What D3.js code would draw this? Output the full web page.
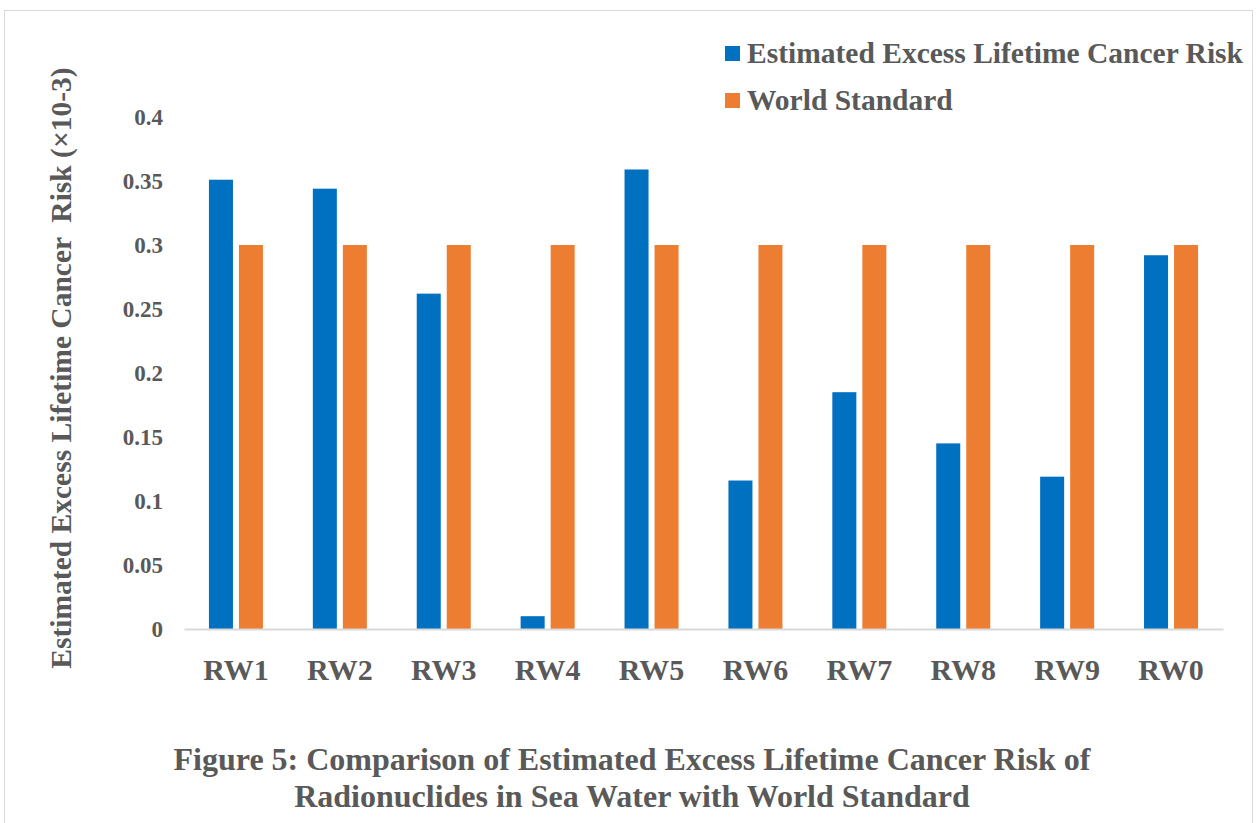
<!DOCTYPE html>
<html>
<head>
<meta charset="utf-8">
<script src="https://cdn.jsdelivr.net/npm/d3@7"></script>
<style>
  body { margin: 0; background: #fff; }
  text { font-family: "Liberation Serif", "Times New Roman", serif; font-weight: bold; fill: #595959; }
</style>
</head>
<body>
<svg id="chart" width="1258" height="823"></svg>
<script>
// chart values
const sites = ["RW1", "RW2", "RW3", "RW4", "RW5", "RW6", "RW7", "RW8", "RW9", "RW0"];
const seriesNames = ["Estimated Excess Lifetime Cancer Risk", "World Standard"];
const elcrValues = [0.351, 0.344, 0.262, 0.010, 0.359, 0.116, 0.185, 0.145, 0.119, 0.292];
const worldStandard = [0.3, 0.3, 0.3, 0.3, 0.3, 0.3, 0.3, 0.3, 0.3, 0.3];
const yTicks = [0, 0.05, 0.1, 0.15, 0.2, 0.25, 0.3, 0.35, 0.4];
const colors = ["#0070C0", "#ED7D31"];

const svg = d3.select("#chart");

// outer frame
svg.append("rect")
  .attr("x", 4.5).attr("y", 10.5)
  .attr("width", 1248).attr("height", 830)
  .attr("fill", "none")
  .attr("stroke", "#d9d9d9");

const plot = { left: 184, right: 1223, top: 117, bottom: 629 };

const y = d3.scaleLinear()
  .domain([0, 0.4])
  .range([plot.bottom, plot.top]);

const x0 = d3.scaleBand()
  .domain(sites)
  .range([plot.left, plot.right])
  .paddingInner(0.48)
  .paddingOuter(0.24);

const x1 = d3.scaleBand()
  .domain(seriesNames)
  .range([0, x0.bandwidth()])
  .paddingInner(0.2);

// rows of data for the grouped bars
const rows = sites.map((s, i) => ({
  site: s,
  vals: [
    { name: seriesNames[0], value: elcrValues[i], c: colors[0] },
    { name: seriesNames[1], value: worldStandard[i], c: colors[1] }
  ]
}));

// y axis labels only, no line
const yAxis = d3.axisLeft(y)
  .tickValues(yTicks)
  .tickFormat(d => d === 0 ? "0" : String(+d.toFixed(2)))
  .tickSize(0)
  .tickPadding(21);

const gy = svg.append("g")
  .attr("transform", `translate(${plot.left},0)`)
  .call(yAxis);
gy.select(".domain").remove();
gy.selectAll("text")
  .attr("font-size", 23)
  .attr("font-family", null)
  .attr("fill", "#595959");

// bars
const groups = svg.append("g").selectAll("g")
  .data(rows)
  .join("g")
  .attr("transform", d => `translate(${x0(d.site)},0)`);

groups.selectAll("rect")
  .data(d => d.vals)
  .join("rect")
  .attr("x", d => x1(d.name))
  .attr("y", d => y(d.value))
  .attr("width", x1.bandwidth())
  .attr("height", d => y(0) - y(d.value))
  .attr("fill", d => d.c);

// x axis baseline and labels
const xAxis = d3.axisBottom(x0).tickSize(0).tickPadding(30);
const gx = svg.append("g")
  .attr("transform", `translate(0,${plot.bottom})`)
  .call(xAxis);
gx.select(".domain")
  .attr("stroke", "#d9d9d9")
  .attr("stroke-width", 2);
gx.selectAll("text")
  .attr("font-size", 30)
  .attr("font-family", null)
  .attr("fill", "#595959");

// y axis title
svg.append("text")
  .attr("transform", "translate(71,368) rotate(-90)")
  .attr("text-anchor", "middle")
  .attr("font-size", 29.5)
  .style("white-space", "pre")
  .text("Estimated Excess Lifetime Cancer  Risk (\u00d710-3)");

// legend
const legend = svg.append("g")
  .selectAll("g")
  .data(seriesNames)
  .join("g")
  .attr("transform", (d, i) => `translate(725,${46 + i * 47})`);

legend.append("rect")
  .attr("width", 15).attr("height", 15)
  .attr("fill", (d, i) => colors[i]);

legend.append("text")
  .attr("x", 22).attr("y", 17)
  .attr("font-size", 29.5)
  .text(d => d);

// figure caption
const caption = [
  "Figure 5: Comparison of Estimated Excess Lifetime Cancer Risk of",
  "Radionuclides in Sea Water with World Standard"
];
svg.append("g").selectAll("text")
  .data(caption)
  .join("text")
  .attr("x", 632)
  .attr("y", (d, i) => 770 + i * 37)
  .attr("text-anchor", "middle")
  .attr("font-size", 32)
  .text(d => d);
</script>
</body>
</html>
